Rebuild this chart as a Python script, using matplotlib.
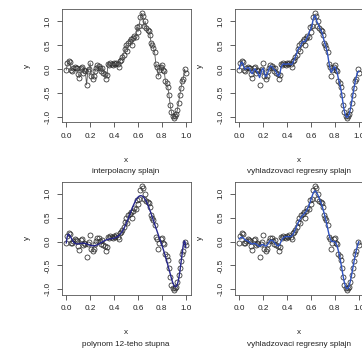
import matplotlib

matplotlib.use("Agg")
import matplotlib.pyplot as plt
import numpy as np

plt.rcParams["font.family"] = ["Liberation Sans", "DejaVu Sans"]

# data (same sample in all four panels)
x = np.round(np.arange(0, 101) / 100, 2)
y = np.array([
    -0.02, 0.12, 0.17, 0.15, -0.02, -0.03, 0.02, 0.05, 0.03, 0.02,
    -0.10, -0.18, 0.03, 0.05, -0.08, -0.02, -0.05, -0.33, -0.05, 0.00,
    0.13, -0.15, -0.20, -0.15, -0.05, 0.02, 0.08, 0.07, 0.02, -0.05,
    0.03, -0.08, -0.10, -0.20, -0.12, 0.10, 0.08, 0.12, 0.10, 0.08,
    0.12, 0.10, 0.13, 0.10, 0.05, 0.17, 0.20, 0.25, 0.30, 0.42,
    0.50, 0.38, 0.55, 0.58, 0.62, 0.50, 0.65, 0.70, 0.68, 0.88,
    0.78, 0.90, 1.08, 1.17, 1.12, 0.90, 1.00, 0.85, 0.82, 0.80,
    0.72, 0.55, 0.50, 0.45, 0.35, 0.10, 0.05, -0.15, -0.02, 0.05,
    0.08, -0.02, -0.05, -0.25, -0.30, -0.38, -0.55, -0.75, -0.90, -0.98,
    -1.02, -0.98, -0.95, -0.85, -0.70, -0.55, -0.40, -0.25, -0.20, 0.00,
    -0.08,
])

subtitles = ["interpolacny splajn", "vyhladzovaci regresny splajn",
             "polynom 12-teho stupna", "vyhladzovaci regresny splajn"]
x_ticks = [0.0, 0.2, 0.4, 0.6, 0.8, 1.0]
y_ticks = [-1.0, -0.5, 0.0, 0.5, 1.0]


def smooth(yv, lam):
    # penalised least squares (second differences), smoothing-spline like
    n = len(yv)
    D = np.diff(np.eye(n), 2, axis=0)
    return np.linalg.solve(np.eye(n) + lam * D.T @ D, yv)


poly = np.polynomial.Polynomial.fit(x, y, 12)
xf = np.linspace(0, 1, 400)
fits = [
    (x, y, "#555555", 0.6),
    (x, smooth(y, 0.5), "#2f52c0", 1.0),
    (xf, poly(xf), "#26268c", 1.0),
    (x, smooth(y, 5.0), "#2f52c0", 1.0),
]

W, H = 362, 351
fs = 5.9
fig = plt.figure(figsize=(W / 100, H / 100), dpi=100)
boxes = [(61.5, 9), (234.5, 9), (61.5, 181.5), (234.5, 181.5)]
bw, bh = 129, 113

pad = 0.04 * (y.max() - y.min())
for i, ((l, t), sub, (fx, fy, col, lw)) in enumerate(zip(boxes, subtitles, fits)):
    ax = fig.add_axes([l / W, 1 - (t + bh) / H, bw / W, bh / H])
    ax.plot(x, y, "o", mfc="none", mec="#2a2a2a", ms=3.6, mew=0.55)
    ax.plot(fx, fy, color=col, lw=lw)
    ax.set_xlim(-0.04, 1.04)
    ax.set_ylim(y.min() - pad, y.max() + pad)
    ax.set_xticks(x_ticks)
    ax.set_yticks(y_ticks)
    ax.set_xticklabels([f"{v:.1f}" for v in x_ticks])
    ax.set_yticklabels([f"{v:.1f}" for v in y_ticks], rotation=90, va="center")
    ax.tick_params(length=3.6, width=0.6, color="#444444", labelsize=fs,
                   labelcolor="#222222")
    ax.tick_params(axis="x", pad=4.3)
    ax.tick_params(axis="y", pad=3.3)
    for s in ax.spines.values():
        s.set_linewidth(0.6)
        s.set_color("#555555")
    cx = (l + bw / 2) / W
    base = t + bh
    fig.text(cx, 1 - (base + 38) / H, "x", ha="center", va="center",
             fontsize=fs, color="#222222")
    fig.text(cx, 1 - (base + 49.5) / H, sub, ha="center", va="center",
             fontsize=fs, color="#222222")
    fig.text((l - 34.5) / W, 1 - (t + bh / 2) / H, "y", ha="center",
             va="center", rotation=90, fontsize=fs, color="#222222")

fig.savefig("out.png", dpi=100, facecolor="white")
